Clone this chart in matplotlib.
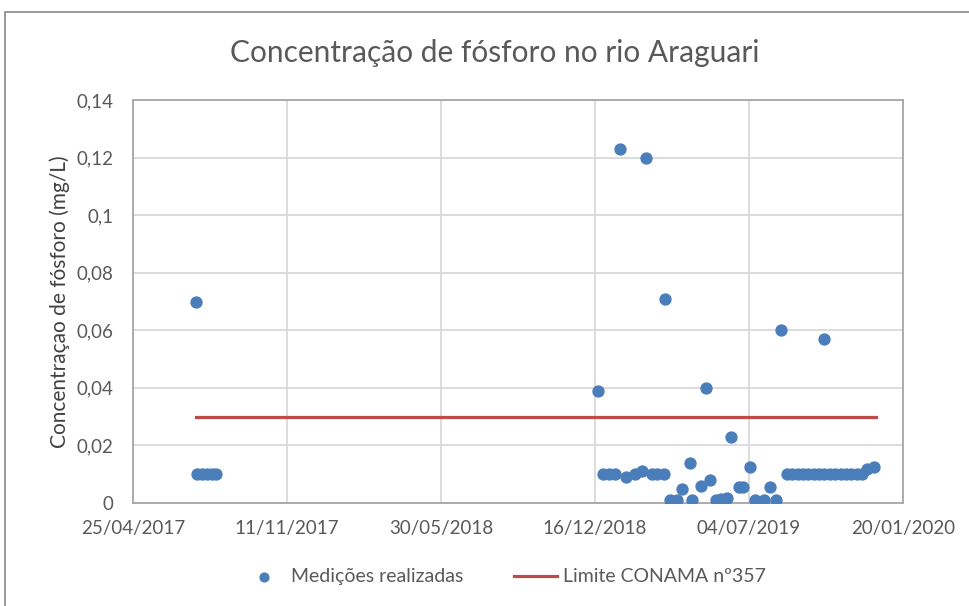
import numpy as np
import pandas as pd
import matplotlib
matplotlib.use("Agg")
import matplotlib.pyplot as plt
import matplotlib.dates as mdates
from matplotlib.patches import Rectangle

plt.rcParams['font.family'] = ['Lato', 'DejaVu Sans']

# medições de fósforo (mg/L)
dates = [
    "2017-07-16", "2017-07-17", "2017-07-23", "2017-07-30", "2017-08-05", "2017-08-11",
    "2018-12-20", "2018-12-27", "2019-01-03", "2019-01-11", "2019-01-17", "2019-01-25",
    "2019-02-06", "2019-02-15", "2019-02-20", "2019-02-28", "2019-03-07", "2019-03-15",
    "2019-03-17", "2019-03-23", "2019-04-01", "2019-04-08", "2019-04-18", "2019-04-21",
    "2019-05-03", "2019-05-09", "2019-05-14", "2019-05-22", "2019-05-29", "2019-06-05",
    "2019-06-11", "2019-06-21", "2019-06-26", "2019-07-05", "2019-07-12", "2019-07-23",
    "2019-07-31", "2019-08-08", "2019-08-14", "2019-08-22", "2019-08-29", "2019-09-05",
    "2019-09-12", "2019-09-19", "2019-09-26", "2019-10-03", "2019-10-10", "2019-10-10",
    "2019-10-17", "2019-10-24", "2019-10-31", "2019-11-07", "2019-11-14", "2019-11-21",
    "2019-11-28", "2019-12-04", "2019-12-13",
]
fosforo = [
    0.070, 0.010, 0.010, 0.010, 0.010, 0.010,
    0.039, 0.010, 0.010, 0.010, 0.123, 0.009,
    0.010, 0.011, 0.120, 0.010, 0.010, 0.010,
    0.071, 0.001, 0.001, 0.005, 0.014, 0.001,
    0.006, 0.040, 0.008, 0.001, 0.0013, 0.0017,
    0.023, 0.0054, 0.0054, 0.0125, 0.001, 0.001,
    0.0055, 0.001, 0.060, 0.010, 0.010, 0.010,
    0.010, 0.010, 0.010, 0.010, 0.010, 0.057,
    0.010, 0.010, 0.010, 0.010, 0.010, 0.010,
    0.010, 0.0118, 0.0125,
]

limite_datas = ["2017-07-16", "2019-12-16"]
limite_valor = [0.03, 0.03]

xticks = pd.date_range("2017-04-25", periods=6, freq="200D")

fig = plt.figure(figsize=(9.7, 6.06), dpi=100)
ax = fig.add_axes([133 / 970, 103 / 606, 770 / 970, 403 / 606])

ax.scatter(pd.to_datetime(dates), fosforo, s=62, color='#4a7ebb', zorder=3,
           label='Medições realizadas')
ax.plot(pd.to_datetime(limite_datas), limite_valor, color='#be4b48', lw=2.3,
        zorder=2, label='Limite CONAMA nº357')

ax.set_xlim(xticks[0], xticks[-1])
ax.set_ylim(0, 0.14)
ax.set_xticks(xticks)
ax.xaxis.set_major_formatter(mdates.DateFormatter('%d/%m/%Y'))
yt = np.arange(0, 0.141, 0.02)
ax.set_yticks(yt)
ax.set_yticklabels(['0', '0,02', '0,04', '0,06', '0,08', '0,1', '0,12', '0,14'])

ax.grid(True, color='#d9d9d9', lw=1.3)
ax.set_axisbelow(True)
for s in ax.spines.values():
    s.set_color('#a6a6a6')
    s.set_linewidth(1.3)
ax.tick_params(length=0, labelsize=13.5, labelcolor='#595959', pad=12)
ax.tick_params(axis='y', pad=14)

ax.set_ylabel('Concentraçao de fósforo (mg/L)', fontsize=15, color='#404040', labelpad=5)
fig.text(0.51, 0.913, 'Concentração de fósforo no rio Araguari', ha='center', va='center',
         fontsize=21.5, color='#595959')

leg = fig.legend(loc='center', bbox_to_anchor=(0.52, 0.048), ncol=2, frameon=False,
                 fontsize=14, handlelength=2.2, columnspacing=2.6, handletextpad=0.3,
                 markerscale=0.8)
for t in leg.get_texts():
    t.set_color('#595959')

fig.patches.append(Rectangle((5 / 970, -0.01), 1.0, (606 - 12) / 606 + 0.01,
                             transform=fig.transFigure, fill=False,
                             edgecolor='#888888', lw=1.2))

fig.savefig('out.png', dpi=100)
